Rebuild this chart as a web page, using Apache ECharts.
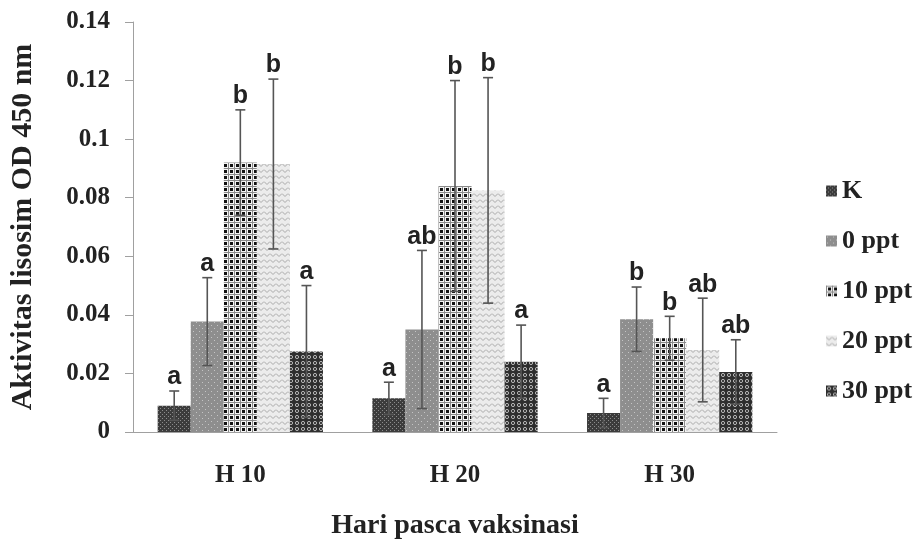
<!DOCTYPE html>
<html>
<head>
<meta charset="utf-8">
<script src="https://cdn.jsdelivr.net/npm/echarts@6/dist/echarts.min.js"></script>
<style>
  html, body { margin: 0; padding: 0; background: #fff; }
  #main { width: 922px; height: 540px; }
</style>
</head>
<body>
<div id="main"></div>
<script>
(function(){
  var categories = ['H 10', 'H 20', 'H 30'];
  var seriesNames = ['K', '0 ppt', '10 ppt', '20 ppt', '30 ppt'];

  // means
  var valK  = [0.009, 0.0115, 0.0065];
  var val0  = [0.0377, 0.035, 0.0385];
  var val10 = [0.092, 0.084, 0.032];
  var val20 = [0.0915, 0.0825, 0.028];
  var val30 = [0.0275, 0.024, 0.0205];

  // error (+/-)
  var errK  = [0.005, 0.0055, 0.005];
  var err0  = [0.015, 0.027, 0.011];
  var err10 = [0.018, 0.036, 0.0075];
  var err20 = [0.029, 0.0385, 0.0177];
  var err30 = [0.0225, 0.0125, 0.011];

  // significance letters
  var letK  = ['a', 'a', 'a'];
  var let0  = ['a', 'ab', 'b'];
  var let10 = ['b', 'b', 'b'];
  var let20 = ['b', 'b', 'ab'];
  var let30 = ['a', 'a', 'ab'];

  var yTicks = [0, 0.02, 0.04, 0.06, 0.08, 0.1, 0.12, 0.14];

  var values = [valK, val0, val10, val20, val30];
  var errors = [errK, err0, err10, err20, err30];
  var letters = [letK, let0, let10, let20, let30];

  // hatch patterns
  function tile(size, draw) {
    var c = document.createElement('canvas');
    c.width = size; c.height = size;
    draw(c.getContext('2d'), size);
    return { image: c, repeat: 'repeat' };
  }
  var patterns = [
    tile(4, function(g){ // K: dark dense checker
      g.fillStyle = '#3c3c3c'; g.fillRect(0,0,4,4);
      g.fillStyle = '#8c8c8c'; g.fillRect(0,0,1,1); g.fillRect(2,2,1,1);
    }),
    tile(6, function(g){ // 0 ppt: medium gray with light dots
      g.fillStyle = '#8e8e8e'; g.fillRect(0,0,6,6);
      g.fillStyle = '#c4c4c4'; g.fillRect(1,1,1,1); g.fillRect(4,4,1,1);
    }),
    tile(6, function(g){ // 10 ppt: black squares on white grid
      g.fillStyle = '#f4f4f4'; g.fillRect(0,0,6,6);
      g.fillStyle = '#8a8a8a'; g.fillRect(0,0,6,1); g.fillRect(0,0,1,6);
      g.fillStyle = '#111'; g.fillRect(2,2,3,3);
    }),
    tile(6, function(g){ // 20 ppt: light wavy
      g.fillStyle = '#ececec'; g.fillRect(0,0,6,6);
      g.strokeStyle = '#a8a8a8'; g.lineWidth = 1;
      g.beginPath(); g.moveTo(0,1.5); g.lineTo(3,4.5); g.lineTo(6,1.5); g.stroke();
    }),
    tile(6, function(g){ // 30 ppt: dark with light rings
      g.fillStyle = '#2e2e2e'; g.fillRect(0,0,6,6);
      g.strokeStyle = '#b8b8b8'; g.lineWidth = 1;
      g.beginPath(); g.arc(3,3,1.6,0,Math.PI*2); g.stroke();
    })
  ];

  var series = seriesNames.map(function(name, i){
    return {
      name: name,
      type: 'bar',
      data: values[i],
      barGap: '0%',
      barCategoryGap: '23%',
      itemStyle: { color: patterns[i] },
      z: 2
    };
  });

  var errData = [];
  var errLetters = [];
  for (var s = 0; s < seriesNames.length; s++) {
    for (var c = 0; c < categories.length; c++) {
      errData.push([c, s, values[s][c] - errors[s][c], values[s][c] + errors[s][c]]);
      errLetters.push(letters[s][c]);
    }
  }

  series.push({
    type: 'custom',
    name: 'err',
    z: 5,
    data: errData,
    renderItem: function(params, api){
      var cat = api.value(0), si = api.value(1);
      var catW = api.size([1, 0])[0];
      var bw = catW * 0.77 / 5;
      var xc = api.coord([cat, 0])[0] + (si - 2) * bw;
      var yHi = api.coord([cat, api.value(3)])[1];
      var yLo = api.coord([cat, api.value(2)])[1];
      var st = { stroke: '#555', lineWidth: 1.6 };
      return {
        type: 'group',
        children: [
          { type: 'line', shape: { x1: xc, y1: yLo, x2: xc, y2: yHi }, style: st },
          { type: 'line', shape: { x1: xc - 5, y1: yHi, x2: xc + 5, y2: yHi }, style: st },
          { type: 'line', shape: { x1: xc - 5, y1: yLo, x2: xc + 5, y2: yLo }, style: st },
          { type: 'text', style: {
              x: xc, y: yHi - 1, text: errLetters[params.dataIndex],
              align: 'center', verticalAlign: 'bottom',
              font: 'bold 25px "Liberation Sans", Arial, sans-serif', fill: '#222'
          } }
        ]
      };
    }
  });

  var chart = echarts.init(document.getElementById('main'));
  var serif = '"Liberation Serif", "Times New Roman", serif';

  var option = {
    animation: false,
    grid: { left: 133, right: 145, top: 22, bottom: 108, outerBoundsMode: 'none', containLabel: false },
    legend: {
      data: seriesNames,
      orient: 'vertical',
      left: 821,
      top: 173,
      itemWidth: 11,
      itemHeight: 11,
      itemGap: 24,
      icon: 'rect',
      textStyle: { fontFamily: serif, fontWeight: 'bold', fontSize: 26, color: '#222', padding: [0, 0, 0, 0] }
    },
    xAxis: {
      type: 'category',
      data: categories,
      name: 'Hari pasca vaksinasi',
      nameLocation: 'middle',
      nameGap: 80,
      nameTextStyle: { fontFamily: serif, fontWeight: 'bold', fontSize: 28, color: '#222' },
      axisLine: { lineStyle: { color: '#a0a0a0', width: 1 } },
      axisTick: { length: 6, lineStyle: { color: '#a0a0a0' } },
      axisLabel: { margin: 31, fontFamily: serif, fontWeight: 'bold', fontSize: 25, color: '#222' }
    },
    yAxis: {
      type: 'value',
      min: 0,
      max: yTicks[yTicks.length - 1],
      interval: 0.02,
      name: 'Aktivitas lisosim OD 450 nm',
      nameLocation: 'middle',
      nameGap: 95,
      nameTextStyle: { fontFamily: serif, fontWeight: 'bold', fontSize: 30, color: '#222' },
      axisLine: { show: true, lineStyle: { color: '#a0a0a0', width: 1 } },
      axisTick: { show: true, length: 8, lineStyle: { color: '#a0a0a0' } },
      splitLine: { show: false },
      axisLabel: {
        margin: 23,
        fontFamily: serif, fontWeight: 'bold', fontSize: 25, color: '#222',
        formatter: function(v){ return String(Math.round(v * 100) / 100); }
      }
    },
    series: series
  };

  chart.setOption(option);
})()
</script>
</body>
</html>
